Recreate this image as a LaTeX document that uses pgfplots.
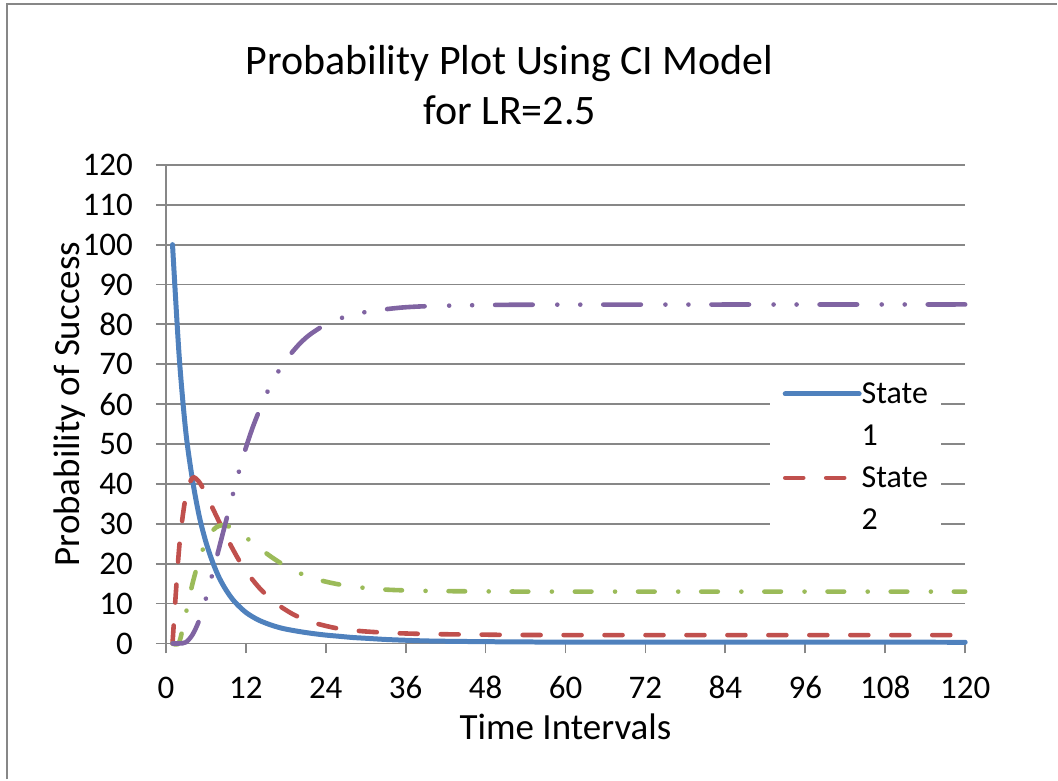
\documentclass[border=0pt]{standalone}
\usepackage{pgfplots}
\pgfplotsset{compat=1.18}
\usepackage{fontspec}
\setmainfont{Carlito}
\definecolor{sone}{HTML}{4F81BD}
\definecolor{stwo}{HTML}{C0504D}
\definecolor{sthree}{HTML}{9BBB59}
\definecolor{sfour}{HTML}{8064A2}
\definecolor{gridgray}{HTML}{878787}
\begin{document}
\begin{tikzpicture}
\begin{axis}[
  at={(0,0)}, anchor=south west, scale only axis,
  width=400pt, height=239.5pt,
  xmin=0, xmax=120, ymin=0, ymax=120,
  xtick={0,12,...,120}, ytick={0,10,...,120},
  axis lines*=left,
  axis line style={draw=gridgray, line width=0.9pt},
  ymajorgrids, grid style={draw=gridgray, line width=0.9pt},
  tick style={draw=gridgray, line width=0.9pt},
  tick align=outside, major tick length=5pt,
  /pgf/number format/assume math mode=true,
  ticklabel style={font=\fontsize{16.5}{19}\selectfont},
  xticklabel style={text height=10.8pt, text depth=0pt, yshift=-8pt},
  yticklabel style={xshift=-8pt},
  xlabel={Time Intervals}, ylabel={Probability of Success},
  every axis x label/.style={at={(axis description cs:0.5,0)}, anchor=base, yshift=-48pt, font=\fontsize{18.5}{22}\selectfont},
  every axis y label/.style={at={(axis description cs:-0.1075,0.5)}, rotate=90, anchor=base, font=\fontsize{18.5}{22}\selectfont},
  clip=false,
  legend style={at={(rel axis cs:0.755,0.566)}, anchor=north west, draw=none, fill=white,
    inner xsep=6.5pt, inner ysep=4pt, font=\fontsize{16}{21}\selectfont,
    nodes={inner sep=0pt, text height=11.5pt, text depth=3.5pt},
    cells={anchor=base west}, column sep=0pt, row sep=6pt},
  legend image code/.code={\path[draw=none] (0pt,0pt) -- (37pt,0pt); \draw[#1] (0pt,5pt) -- (37pt,5pt);},
]
\addplot[sone, line width=2.5pt, smooth, line cap=round] coordinates {
(1,100)(2,72)(3,53)(4,41)(5,32)(6,25.5)(7,20.5)(8,16.5)(9,13.5)(10,11.1)(11,9.3)(12,7.8)(13,6.7)(14,5.8)(15,5.1)(16,4.5)(17,4.0)(18,3.6)(20,3.0)(22,2.5)(24,2.1)(26,1.8)(28,1.5)(30,1.3)(33,1.0)(36,0.8)(40,0.6)(48,0.45)(60,0.35)(120,0.3)};
\addlegendentry{State}
\addlegendimage{legend image code/.code={\path[draw=none] (0pt,0pt) -- (37pt,0pt);}}
\addlegendentry{1}
\addplot[stwo, line width=2.3pt, smooth, line cap=round, dash pattern=on 9pt off 11.5pt] coordinates {
(1,0)(2,24)(3,37)(4,41.5)(5,40.5)(6,37.5)(7,34)(8,30.5)(9,27)(10,23.8)(11,20.8)(12,18.2)(13,16)(14,14)(15,12.3)(16,10.8)(17,9.5)(18,8.4)(19,7.4)(20,6.6)(22,5.3)(24,4.4)(26,3.7)(28,3.3)(30,3.0)(33,2.7)(36,2.5)(40,2.35)(48,2.2)(60,2.1)(120,2.1)};
\addlegendentry{State}
\addlegendimage{legend image code/.code={\path[draw=none] (0pt,0pt) -- (37pt,0pt);}}
\addlegendentry{2}
\addplot[sthree, line width=2.3pt, smooth, line cap=round, dash pattern=on 8.3pt off 11.8pt on 0.01pt off 11.5pt, forget plot] coordinates {
(1,0)(2,0.3)(3,7.5)(4,15)(5,21)(6,25.5)(7,28.3)(8,29.5)(9,29.6)(10,28.9)(11,27.8)(12,26.6)(13,25.3)(14,24)(15,22.7)(16,21.5)(17,20.4)(18,19.4)(19,18.5)(20,17.7)(22,16.4)(24,15.5)(26,14.8)(28,14.3)(30,13.9)(33,13.5)(36,13.3)(40,13.15)(48,13.05)(60,13)(120,13)};
\addplot[sfour, line width=2.3pt, smooth, line cap=round, dash pattern=on 18.8pt off 12.3pt on 0.01pt off 11.5pt on 0.01pt off 11.5pt, forget plot] coordinates {
(1,0)(2,0)(3,0.3)(4,2.2)(5,5.8)(6,11.2)(7,17.5)(8,24)(9,30.5)(10,37)(11,43.3)(12,49)(13,54)(14,58.3)(15,62.2)(16,65.6)(17,68.5)(18,71)(19,73.1)(20,75)(21,76.6)(22,77.9)(24,80)(26,81.4)(28,82.4)(30,83.1)(33,83.8)(36,84.3)(40,84.6)(48,84.85)(60,84.95)(120,85)};
\end{axis}
\node[anchor=base, font=\fontsize{21}{25}\selectfont] at (172pt,284.5pt) {Probability Plot Using CI Model};
\node[anchor=base, font=\fontsize{21}{25}\selectfont] at (172pt,259.5pt) {for LR=2.5};
\draw[gridgray, line width=0.9pt] (-79.5pt,-68pt) -- (-79.5pt,320pt) -- (446pt,320pt);
\path[use as bounding box] (-83pt,-68pt) rectangle (446pt,322pt);
\end{tikzpicture}
\end{document}
